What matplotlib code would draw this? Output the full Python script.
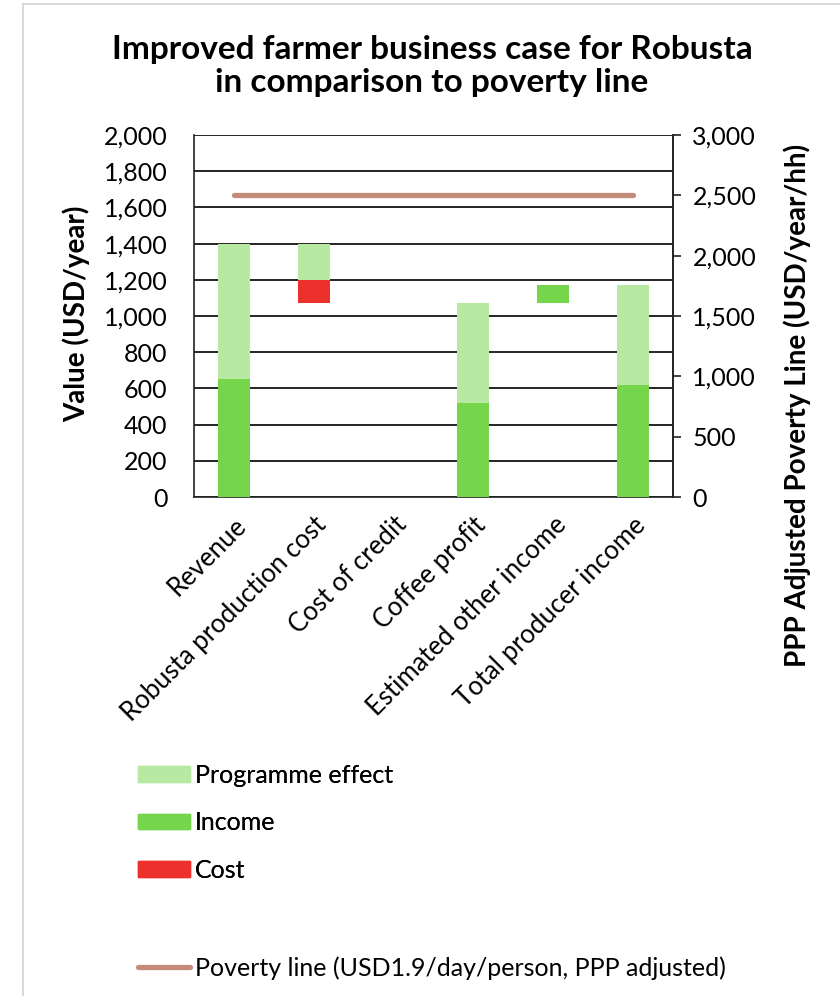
import matplotlib
matplotlib.use("Agg")
import matplotlib.pyplot as plt
from matplotlib.patches import Rectangle, Patch
from matplotlib.lines import Line2D

plt.rcParams["font.family"] = ["Lato", "DejaVu Sans"]

# Waterfall components (USD/year)
categories = ["Revenue", "Robusta production cost", "Cost of credit",
              "Coffee profit", "Estimated other income", "Total producer income"]
base = [0, 1070, 0, 0, 1070, 0]          # invisible offset for floating bars
income = [650, 0, 0, 520, 100, 620]
cost = [0, 130, 0, 0, 0, 0]
programme = [750, 200, 0, 550, 0, 550]
poverty_line = [2500, 2500, 2500, 2500, 2500, 2500]  # USD/year/hh, right axis

left_ticks = list(range(0, 2001, 200))
right_ticks = list(range(0, 3001, 500))

C_PROG = "#B8E9A3"
C_INC = "#75D54B"
C_COST = "#EC302B"
C_POV = "#C48B79"

W, H = 840, 996
fig = plt.figure(figsize=(W / 100, H / 100), dpi=100)

# outer frame of the chart area
fig.patches.append(Rectangle((23 / W, -0.1), 1.2, 1.1 - 4 / H,
                             transform=fig.transFigure, fill=False,
                             edgecolor="#d9d9d9", lw=1.5))

ax = fig.add_axes([194 / W, 1 - 497 / H, 479 / W, 362 / H])
x = list(range(len(categories)))
bw = 0.4

bottom1 = [b + i for b, i in zip(base, income)]
bottom2 = [b + c for b, c in zip(bottom1, cost)]
ax.bar(x, income, bw, bottom=base, color=C_INC, zorder=3)
ax.bar(x, cost, bw, bottom=bottom1, color=C_COST, zorder=3)
ax.bar(x, programme, bw, bottom=bottom2, color=C_PROG, zorder=3)

ax.set_xlim(-0.5, len(categories) - 0.5)
ax.set_ylim(0, 2000)
ax.set_yticks(left_ticks)
ax.set_yticklabels([f"{v:,}" for v in left_ticks], fontsize=18)
ax.yaxis.grid(True, color="black", lw=1.2, zorder=0)
ax.set_axisbelow(True)
ax.tick_params(axis="y", length=0, pad=19)
ax.tick_params(axis="x", length=0, pad=11)
ax.set_xticks(x)
ax.set_xticklabels(categories, rotation=45, ha="right", rotation_mode="anchor",
                   fontsize=18.5)
for s in ax.spines.values():
    s.set_color("#222222")
    s.set_linewidth(1.2)
ax.spines["top"].set_visible(False)

ax2 = ax.twinx()
ax2.plot(x, poverty_line, color=C_POV, lw=3.8, solid_capstyle="round", zorder=4)
ax2.set_ylim(0, 3000)
ax2.set_yticks(right_ticks)
ax2.set_yticklabels([f"{v:,}" for v in right_ticks], fontsize=18)
ax2.tick_params(axis="y", length=6, width=1.2, color="#222222", pad=8)
for s in ax2.spines.values():
    s.set_visible(False)
ax2.spines["right"].set_visible(True)
ax2.spines["right"].set_color("#222222")
ax2.spines["right"].set_linewidth(1.2)

fig.text(76 / W, 1 - 314 / H, "Value (USD/year)", rotation=90,
         ha="center", va="center", fontsize=20, fontweight="bold")
fig.text(797 / W, 1 - 405 / H, "PPP Adjusted Poverty Line (USD/year/hh)",
         rotation=90, ha="center", va="center", fontsize=20, fontweight="bold")

fig.text(432 / W, 1 - 66 / H,
         "Improved farmer business case for Robusta\nin comparison to poverty line",
         ha="center", va="center", fontsize=24, fontweight="bold",
         linespacing=1.13)

handles = [Patch(color=C_PROG, label="Programme effect"),
           Patch(color=C_INC, label="Income"),
           Patch(color=C_COST, label="Cost")]
leg1 = fig.legend(handles=handles, loc="upper left",
                  bbox_to_anchor=(128 / W, 1 - 754 / H), frameon=False,
                  fontsize=18, handlelength=2.08, handleheight=0.6,
                  handletextpad=0.2, labelspacing=0.97, borderaxespad=0)
leg2 = fig.legend(handles=[Line2D([], [], color=C_POV, lw=3.8,
                                  solid_capstyle="round",
                                  label="Poverty line (USD1.9/day/person, PPP adjusted)")],
                  loc="upper left", bbox_to_anchor=(128 / W, 1 - 946 / H),
                  frameon=False, fontsize=18, handlelength=2.08,
                  handletextpad=0.2, borderaxespad=0)
fig.add_artist(leg1)

fig.savefig("out.png", dpi=100)
